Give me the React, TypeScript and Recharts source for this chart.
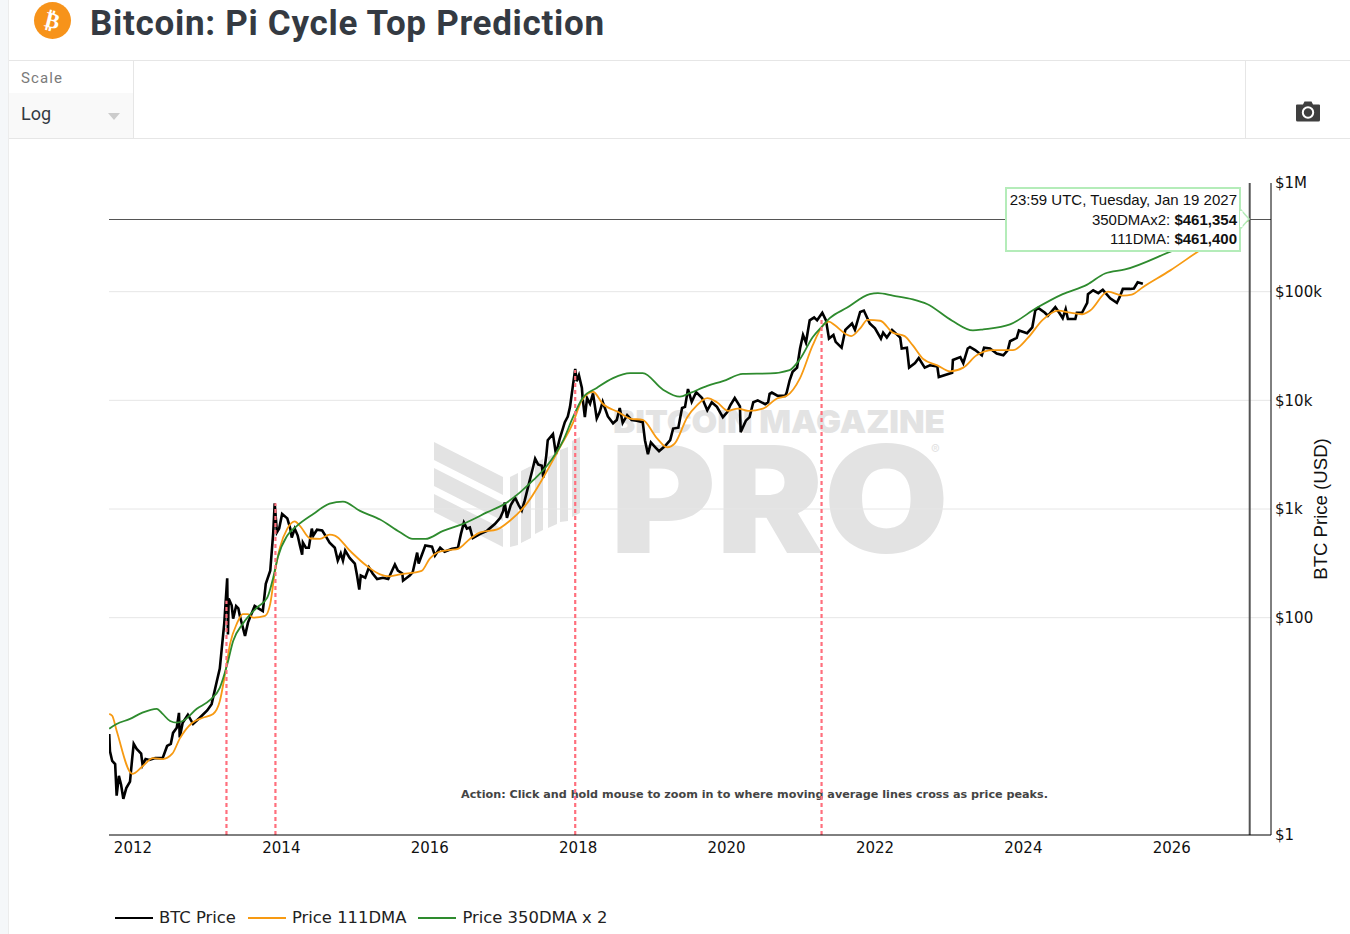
import {
  CartesianGrid,
  Legend,
  Line,
  LineChart,
  ReferenceLine,
  XAxis,
  YAxis,
} from "recharts";

const yearTicks = [2012, 2014, 2016, 2018, 2020, 2022, 2024, 2026];
const priceTicks = [1, 100, 1000, 10000, 100000, 1000000];
const gridPrices = [100, 1000, 10000, 100000];

const btcYears = [
  2011.68, 2011.69, 2011.72, 2011.76, 2011.78, 2011.81, 2011.84, 2011.87, 2011.91, 2011.96, 2011.99,
  2012.01, 2012.05, 2012.11, 2012.13, 2012.17, 2012.22, 2012.3, 2012.4, 2012.46, 2012.51, 2012.54,
  2012.59, 2012.62, 2012.63, 2012.67, 2012.74, 2012.81, 2012.9, 2013.0, 2013.06, 2013.13, 2013.17,
  2013.23, 2013.27, 2013.28, 2013.29, 2013.33, 2013.35, 2013.39, 2013.42, 2013.44, 2013.51, 2013.55,
  2013.64, 2013.75, 2013.79, 2013.85, 2013.89,
  2013.91, 2013.94, 2013.97, 2014.01, 2014.08, 2014.12, 2014.14, 2014.18, 2014.22, 2014.25, 2014.28,
  2014.29, 2014.33, 2014.37, 2014.41, 2014.43, 2014.48, 2014.55, 2014.61, 2014.65, 2014.72, 2014.76,
  2014.8, 2014.83, 2014.86, 2014.92, 2014.99, 2015.02, 2015.05, 2015.07, 2015.13, 2015.18, 2015.23,
  2015.29, 2015.37, 2015.44, 2015.53, 2015.57, 2015.63, 2015.64, 2015.73, 2015.77, 2015.83, 2015.85,
  2015.94, 2016.03, 2016.07, 2016.14, 2016.2, 2016.3, 2016.38, 2016.42, 2016.46, 2016.5, 2016.54,
  2016.58, 2016.68, 2016.77, 2016.88, 2016.95, 2016.99, 2017.01, 2017.04, 2017.09, 2017.15, 2017.2,
  2017.24, 2017.28, 2017.32, 2017.38, 2017.42, 2017.46, 2017.51, 2017.53, 2017.57, 2017.59, 2017.66,
  2017.7, 2017.75, 2017.82, 2017.86, 2017.89, 2017.93, 2017.96,
  2017.98, 2018.01, 2018.05, 2018.06, 2018.09, 2018.12, 2018.16, 2018.2, 2018.25, 2018.29, 2018.33,
  2018.4, 2018.47, 2018.52, 2018.56, 2018.6, 2018.66, 2018.72, 2018.79, 2018.87, 2018.9, 2018.94,
  2018.98, 2019.04, 2019.09, 2019.17, 2019.24, 2019.28, 2019.35, 2019.4, 2019.44, 2019.48, 2019.53,
  2019.59, 2019.67, 2019.74, 2019.8, 2019.87, 2019.95, 2020.01, 2020.05, 2020.11, 2020.18, 2020.19,
  2020.26, 2020.31, 2020.36, 2020.42, 2020.52, 2020.56, 2020.58, 2020.61, 2020.69, 2020.79, 2020.81,
  2020.85, 2020.89, 2020.95,
  2020.99, 2021.03, 2021.07, 2021.12, 2021.18, 2021.22, 2021.29, 2021.34, 2021.38, 2021.44, 2021.47,
  2021.55, 2021.6, 2021.69, 2021.73, 2021.8, 2021.85, 2021.93, 2022.0, 2022.08, 2022.11, 2022.16,
  2022.23, 2022.34, 2022.36, 2022.43, 2022.46, 2022.54, 2022.59, 2022.67, 2022.74, 2022.84, 2022.86,
  2023.04, 2023.05, 2023.15, 2023.19, 2023.25, 2023.28, 2023.35, 2023.44, 2023.47, 2023.55, 2023.64,
  2023.73, 2023.79, 2023.82, 2023.91, 2023.94, 2024.05, 2024.12, 2024.16, 2024.2, 2024.29, 2024.33,
  2024.43, 2024.49, 2024.53, 2024.57, 2024.6, 2024.7, 2024.72, 2024.79, 2024.86, 2024.87, 2024.94,
  2025.01, 2025.07, 2025.17, 2025.26, 2025.3, 2025.34, 2025.44, 2025.49, 2025.54, 2025.61,
];
const btcPrices = [
  8.5, 5.9, 4.8, 4.5, 2.3, 3.5, 2.9, 2.15, 2.7, 3.1, 5.1,
  6.9, 6.2, 5.6, 4.4, 5, 4.9, 5.1, 5.1, 6.6, 6.9, 8.7,
  9.7, 13.3, 7.9, 10.8, 12.8, 10.5, 12, 14, 16, 26, 34,
  88, 230, 70, 150, 130, 98, 128, 122, 104, 68, 90,
  128, 115, 205, 270, 600,
  1130, 610, 660, 900, 820, 660, 545, 660, 570, 461, 380,
  490, 440, 440, 660, 570, 645, 634, 545, 490, 440, 335,
  390, 335, 415, 355, 315, 244, 181, 244, 233, 290, 255,
  227, 233, 227, 308, 271, 255, 219, 244, 262, 397, 315,
  461, 450, 373, 440, 405, 430, 440, 590, 750, 660, 675,
  540, 590, 630, 730, 830, 960, 1150, 830, 1080, 1270, 1080,
  970, 1200, 1550, 2250, 2900, 2570, 2500, 1950, 3100, 4300, 4900,
  3200, 4400, 6300, 7100, 8700, 13800, 19500,
  15000, 17000, 13000, 10500, 7000, 10500, 9300, 11600, 6800, 7800, 9700,
  7100, 6150, 6600, 8500, 6200, 7300, 6600, 6500, 6300, 4300, 3200,
  4100, 3700, 3400, 3800, 4300, 5500, 5600, 8500, 8700, 12700, 9700,
  11900, 10500, 8100, 9600, 8700, 7000, 7800, 9000, 10500, 8800, 5100,
  6500, 7000, 9600, 10000, 9200, 9600, 11500, 11800, 11000, 11000, 11800,
  15300, 18300, 20000,
  30000, 40000, 34000, 54500, 58000, 54500, 64000, 54500, 37000, 40000, 34500,
  30500, 44500, 51000, 44500, 65000, 67000, 51000, 46000, 37000, 42000, 37800,
  44500, 37800, 30000, 30500, 20000, 22000, 24500, 20000, 21000, 20500, 16400,
  17900, 23500, 25000, 22000, 30000, 31000, 29000, 26000, 30500, 30000, 27000,
  26000, 29000, 35000, 37500, 44000, 41500, 47000, 67000, 71000, 64000, 60000,
  72000, 63000, 57000, 69000, 56000, 56000, 64000, 64000, 79000, 95000, 103000,
  97000, 104000, 87000, 79000, 90000, 106000, 106000, 107000, 122000, 118000,
];

const dma111Years = [
  2011.68, 2011.72, 2011.78, 2011.99, 2012.13, 2012.27, 2012.4, 2012.53, 2012.63, 2012.8, 2012.94,
  2013.08, 2013.17, 2013.24, 2013.31, 2013.4, 2013.48, 2013.55, 2013.62, 2013.78, 2013.85, 2013.91,
  2013.98, 2014.08, 2014.18, 2014.25, 2014.39, 2014.52, 2014.65, 2014.72, 2014.92, 2015.15, 2015.33,
  2015.46, 2015.6, 2015.89, 2016.0, 2016.11, 2016.27, 2016.38, 2016.54, 2016.68, 2016.91, 2017.08,
  2017.32, 2017.53, 2017.75, 2017.93, 2018.05, 2018.2, 2018.33, 2018.54, 2018.7, 2018.87, 2019.06,
  2019.2, 2019.3, 2019.47, 2019.6, 2019.74, 2019.87, 2020.02, 2020.15, 2020.29, 2020.49, 2020.68,
  2020.81, 2020.99, 2021.16, 2021.29, 2021.38, 2021.46, 2021.6, 2021.68, 2021.8, 2021.9, 2022.07,
  2022.24, 2022.4, 2022.51, 2022.65, 2022.84, 2023.01, 2023.19, 2023.37, 2023.59, 2023.86, 2024.06,
  2024.26, 2024.47, 2024.63, 2024.79, 2024.9, 2025.14, 2025.34, 2025.46, 2025.61, 2025.98, 2026.38,
  2027.05,
];
const dma111Prices = [
  13, 12.5, 9.1, 3.65, 4.3, 5.1, 5, 5.6, 7.7, 10.8, 12,
  13, 17, 30, 58, 88, 108, 108, 100, 104, 134, 255,
  440, 660, 770, 700, 535, 530, 580, 570, 415, 300, 250,
  240, 250, 270, 350, 400, 420, 430, 530, 610, 650, 780,
  1150, 1950, 3650, 6200, 10000, 12000, 9300, 7800, 6800, 6600, 4500,
  3700, 4000, 7000, 9000, 10500, 9600, 8000, 8400, 8000, 8400, 10400,
  11000, 16000, 32000, 48000, 53000, 49000, 41000, 39000, 46000, 55000, 54000,
  42000, 39000, 32000, 24000, 21000, 18500, 20000, 26000, 29000, 29000, 37500,
  55000, 67000, 64000, 62000, 67000, 100000, 92000, 94000, 110000, 157000, 241000,
  461400,
];

const dma350Years = [
  2011.68, 2011.78, 2011.96, 2012.12, 2012.32, 2012.4, 2012.5, 2012.59, 2012.67, 2012.86, 2013.04,
  2013.17, 2013.27, 2013.35, 2013.48, 2013.67, 2013.81, 2013.89, 2013.95, 2014.08, 2014.21, 2014.43,
  2014.65, 2014.83, 2015.06, 2015.33, 2015.6, 2015.77, 2015.94, 2016.18, 2016.45, 2016.77, 2017.04,
  2017.22, 2017.39, 2017.58, 2017.8, 2017.93, 2018.06, 2018.25, 2018.47, 2018.7, 2018.87, 2019.14,
  2019.37, 2019.51, 2019.74, 2019.95, 2020.22, 2020.59, 2020.85, 2020.99, 2021.16, 2021.3, 2021.39,
  2021.62, 2021.93, 2022.04, 2022.24, 2022.51, 2022.7, 2023.04, 2023.32, 2023.46, 2023.82, 2024.18,
  2024.53, 2024.86, 2025.1, 2025.37, 2026.02, 2027.05,
];
const dma350Prices = [
  9.5, 10.5, 11.7, 13.3, 14.5, 13, 11.2, 10.8, 11.2, 14.5, 17.5,
  22.6, 37, 61, 88, 124, 153, 233, 355, 570, 700, 900,
  1120, 1170, 960, 800, 610, 530, 530, 630, 730, 930, 1150,
  1430, 1830, 2500, 4300, 7000, 10500, 13000, 16000, 17800, 17800, 12600,
  10800, 11700, 13600, 15000, 17500, 17700, 19000, 24000, 38000, 49000, 57000,
  71000, 95000, 97000, 92000, 85000, 77000, 54000, 44000, 45000, 50000, 71000,
  95000, 116000, 147000, 160000, 240000, 461354,
];

// years where the two moving averages cross, with the price the marker rises to
const crossYears = [2013.26, 2013.92, 2017.96, 2021.28];
const crossPrices = [143, 1130, 19000, 57000];

const cursorYear = 2027.05;
const cursorPrice = 461400;

const btcData = btcYears.map((year, i) => ({ year, value: btcPrices[i] }));
const dma111Data = dma111Years.map((year, i) => ({ year, value: dma111Prices[i] }));
const dma350Data = dma350Years.map((year, i) => ({ year, value: dma350Prices[i] }));

const AXIS_FONT = { fontFamily: "'DejaVu Sans'", fontSize: 15, fill: "#111" };

function formatPrice(v: number) {
  if (v >= 1000000) return `$${v / 1000000}M`;
  if (v >= 1000) return `$${v / 1000}k`;
  return `$${v}`;
}

function renderLegend({ payload }: any) {
  return (
    <div style={{ display: "flex", fontFamily: "'DejaVu Sans'", fontSize: 16.4, color: "#222" }}>
      {(payload || []).map((entry: any) => (
        <div key={entry.value} style={{ display: "flex", alignItems: "center", marginRight: 12 }}>
          <div style={{ width: 38, height: 2, background: entry.color, marginRight: 6 }} />
          <span>{entry.value}</span>
        </div>
      ))}
    </div>
  );
}

function Watermark() {
  const fill = "#e3e3e3";
  const font = "Inter, 'Open Sans'";
  return (
    <svg width={1350} height={934} style={{ position: "absolute", left: 0, top: 0 }}>
      <polygon points="434,442 503,477 503,495 434,460" fill={fill} />
      <polygon points="434,468 503,503 503,521 434,486" fill={fill} />
      <polygon points="434,494 503,529 503,547 434,512" fill={fill} />
      <polygon points="510,477 518,473 518,545 510,547" fill={fill} />
      <polygon points="521,471 531,466 531,538 521,543" fill={fill} />
      <polygon points="535,463 543,459 543,530 535,534" fill={fill} />
      <polygon points="548,457 557,453 557,524 548,528" fill={fill} />
      <polygon points="560,450 568,447 568,521 560,522" fill={fill} />
      <polygon points="572,441 580,437 580,513 572,517" fill={fill} />
      <text x={613} y={433} fontFamily={font} fontWeight={900} fontSize={32} fill={fill} textLength={332} lengthAdjust="spacingAndGlyphs">
        BITCOIN MAGAZINE
      </text>
      <text x={610} y={553} fontFamily={font} fontWeight={900} fontSize={149} fill={fill} textLength={339} lengthAdjust="spacingAndGlyphs">
        PRO
      </text>
      <text x={931} y={454} fontFamily={font} fontSize={13} fill={fill}>
        ®
      </text>
    </svg>
  );
}

function Header() {
  const line = "#e6e6e6";
  return (
    <>
      <div style={{ position: "absolute", left: 0, top: 0, width: 8, height: 934, background: "#f5f7f9", borderRight: `1px solid #ececec` }} />
      <svg width={50} height={46} style={{ position: "absolute", left: 28, top: 0 }}>
        <circle cx={24.5} cy={20.5} r={18.5} fill="#f7931a" />
        <text x={24.5} y={28} textAnchor="middle" fontFamily="'DejaVu Sans'" fontWeight={700} fontSize={22} fill="#fff" transform="rotate(14 24.5 20.5)">
          ₿
        </text>
      </svg>
      <div style={{ position: "absolute", left: 90, top: 3, fontFamily: "Roboto", fontWeight: 700, fontSize: 35, letterSpacing: 0.7, color: "#343a42", whiteSpace: "nowrap" }}>
        Bitcoin: Pi Cycle Top Prediction
      </div>
      <div style={{ position: "absolute", left: 9, top: 60, width: 1341, height: 1, background: line }} />
      <div style={{ position: "absolute", left: 9, top: 138, width: 1341, height: 1, background: line }} />
      <div style={{ position: "absolute", left: 133, top: 60, width: 1, height: 79, background: line }} />
      <div style={{ position: "absolute", left: 1245, top: 60, width: 1, height: 79, background: line }} />
      <div style={{ position: "absolute", left: 21, top: 69, fontFamily: "Roboto", fontSize: 15, letterSpacing: 1.1, color: "#7a7a7a" }}>Scale</div>
      <div style={{ position: "absolute", left: 9, top: 93, width: 124, height: 45, background: "#f9f9f9" }} />
      <div style={{ position: "absolute", left: 21, top: 103, fontFamily: "Roboto", fontSize: 18, color: "#343a42" }}>Log</div>
      <div style={{ position: "absolute", left: 108, top: 113, width: 0, height: 0, borderLeft: "6px solid transparent", borderRight: "6px solid transparent", borderTop: "7px solid #ccc" }} />
      <svg width={26} height={24} viewBox="0 0 26 24" style={{ position: "absolute", left: 1295, top: 99 }}>
        <path d="M2 5.5 H8 L9.5 2.5 H16.5 L18 5.5 H24 Q25 5.5 25 6.5 V21 Q25 22.5 23.5 22.5 H2.5 Q1 22.5 1 21 V6.5 Q1 5.5 2 5.5 Z" fill="#3f3f3f" />
        <circle cx={13} cy={13.5} r={5.2} fill="none" stroke="#fff" strokeWidth={2} />
      </svg>
    </>
  );
}

function CursorBox() {
  const border = "#b4ecb9";
  return (
    <>
      <div
        style={{
          position: "absolute",
          left: 1005,
          top: 187,
          width: 230,
          height: 60,
          padding: "1px 2px 0 0",
          background: "#fff",
          border: `2px solid ${border}`,
          boxSizing: "content-box",
          fontFamily: "'Liberation Sans'",
          fontSize: 15,
          lineHeight: "19.5px",
          textAlign: "right",
          color: "#111",
          whiteSpace: "nowrap",
        }}
      >
        <div>23:59 UTC, Tuesday, Jan 19 2027</div>
        <div>350DMAx2: <b>$461,354</b></div>
        <div>111DMA: <b>$461,400</b></div>
      </div>
      <svg width={12} height={20} style={{ position: "absolute", left: 1240, top: 209 }}>
        <polygon points="1,1 9,10 1,19" fill="#fff" stroke={border} strokeWidth={1.5} />
        <rect x={0} y={2} width={2.5} height={16} fill="#fff" />
      </svg>
    </>
  );
}

export default function App() {
  return (
    <div style={{ position: "absolute", left: 0, top: 0, width: 1350, height: 934, background: "#fff", overflow: "hidden" }}>
      <Header />
      <Watermark />
      <div style={{ position: "absolute", left: 0, top: 788, width: 1509, textAlign: "center", fontFamily: "'DejaVu Sans'", fontWeight: 700, fontSize: 11.18, color: "#444" }}>
        Action: Click and hold mouse to zoom in to where moving average lines cross as price peaks.
      </div>
      <div style={{ position: "absolute", left: 0, top: 0 }}>
        <LineChart width={1350} height={934} margin={{ top: 183, right: 19, bottom: 50, left: 109 }}>
          <CartesianGrid vertical={false} stroke="#e6e6e6" horizontalValues={gridPrices} />
          <XAxis
            dataKey="year"
            type="number"
            domain={[2011.677, 2027.337]}
            ticks={yearTicks}
            tickFormatter={(v: number) => String(v)}
            tick={AXIS_FONT}
            tickLine={false}
            tickSize={5}
            stroke="#000"
            height={30}
            allowDataOverflow
          />
          <YAxis
            orientation="right"
            scale="log"
            domain={[1, 1000000]}
            ticks={priceTicks}
            tickFormatter={formatPrice}
            tick={AXIS_FONT}
            tickLine={false}
            tickSize={2}
            stroke="#000"
            width={60}
            allowDataOverflow
            label={{
              value: "BTC Price (USD)",
              angle: -90,
              position: "insideRight",
              dx: -6,
              style: { fontFamily: "'Liberation Sans'", fontSize: 18.6, fill: "#111", textAnchor: "middle" },
            }}
          />
          <ReferenceLine y={cursorPrice} stroke="#555" strokeWidth={1} />
          <Line data={btcData} dataKey="value" name="BTC Price" stroke="#000000" strokeWidth={2.6} dot={false} isAnimationActive={false} />
          <Line data={dma111Data} dataKey="value" name="Price 111DMA" type="monotone" stroke="#f79a12" strokeWidth={1.8} dot={false} isAnimationActive={false} />
          <Line data={dma350Data} dataKey="value" name="Price 350DMA x 2" type="monotone" stroke="#2e8b2e" strokeWidth={1.8} dot={false} isAnimationActive={false} />
          {crossYears.map((year, i) => (
            <ReferenceLine
              key={year}
              segment={[{ x: year, y: 1 }, { x: year, y: crossPrices[i] }]}
              stroke="#ff6f7d"
              strokeWidth={2.2}
              strokeDasharray="4 3"
            />
          ))}
          <ReferenceLine x={cursorYear} stroke="#555" strokeWidth={2} />
          <Legend content={renderLegend} wrapperStyle={{ left: 115, top: 908, width: 600 }} />
        </LineChart>
      </div>
      <CursorBox />
    </div>
  );
}
